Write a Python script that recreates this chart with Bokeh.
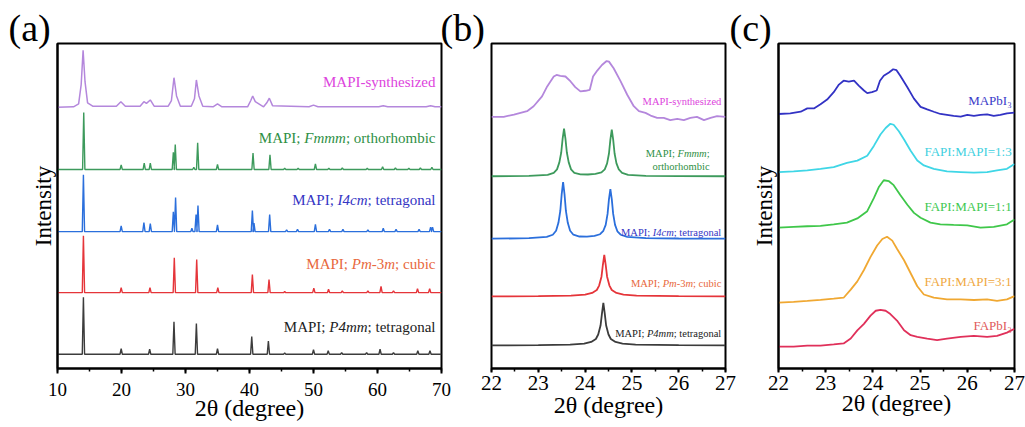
import math
from bokeh.plotting import figure
from bokeh.models import Range1d, SingleIntervalTicker, FixedTicker, Label, Title
from bokeh.layouts import row
from bokeh.embed import file_html
from bokeh.resources import INLINE

FONT = "Liberation Serif"

# ---------------- Panel (a): 10-70 deg, full patterns ----------------
a_synth_x = [10.0, 12.5, 13.3, 13.7, 14.0, 14.3, 14.7, 15.5, 19.2, 19.9, 20.6, 22.9, 23.5, 23.9, 24.5, 25.1,
             27.3, 27.8, 28.2, 28.6, 29.2, 30.9, 31.4, 31.7, 32.1, 32.7, 34.3, 35.0, 35.7, 39.7, 40.2, 40.5,
             40.9, 42.2, 42.7, 43.1, 43.6, 49.3, 50.0, 50.7, 60.2, 60.9, 61.6, 67.6, 68.3, 69.0, 70.0]
a_synth_y = [0.0, 0.01, 0.06, 0.4, 1.0, 0.45, 0.08, 0.02, 0.02, 0.1, 0.02, 0.02, 0.1, 0.07, 0.13, 0.02,
             0.02, 0.12, 0.52, 0.2, 0.02, 0.02, 0.15, 0.48, 0.2, 0.02, 0.01, 0.06, 0.01, 0.01, 0.12, 0.2,
             0.1, 0.01, 0.08, 0.16, 0.03, 0.01, 0.04, 0.01, 0.01, 0.03, 0.01, 0.01, 0.03, 0.01, 0.01]

a_fmmm_pos = [14.1, 19.95, 23.55, 24.5, 28.1, 28.4, 31.3, 31.9, 35.0, 40.55, 43.2, 45.5, 47.6, 50.3, 52.4,
              54.5, 58.4, 60.8, 62.8, 64.9, 66.7, 68.5]
a_fmmm_int = [1.0, 0.08, 0.11, 0.11, 0.3, 0.44, 0.04, 0.47, 0.09, 0.29, 0.26, 0.02, 0.02, 0.1, 0.02,
              0.03, 0.02, 0.05, 0.03, 0.02, 0.03, 0.04]

a_i4cm_pos = [14.05, 19.95, 23.5, 24.5, 28.1, 28.45, 31.0, 31.65, 31.95, 35.0, 40.45, 40.7, 43.15, 45.8,
              47.5, 50.3, 52.5, 54.6, 58.5, 60.9, 62.9, 66.5, 68.3, 68.6]
a_i4cm_int = [1.0, 0.1, 0.16, 0.14, 0.35, 0.6, 0.06, 0.3, 0.46, 0.12, 0.37, 0.15, 0.3, 0.03,
              0.04, 0.13, 0.04, 0.04, 0.03, 0.06, 0.04, 0.04, 0.08, 0.08]

a_pm3m_pos = [14.05, 19.95, 24.45, 28.25, 31.75, 35.05, 40.45, 43.05, 45.5, 50.05, 52.35, 54.5, 58.5,
              60.55, 62.5, 66.25, 68.15]
a_pm3m_int = [1.0, 0.09, 0.09, 0.61, 0.58, 0.09, 0.32, 0.23, 0.02, 0.08, 0.06, 0.03, 0.03,
              0.11, 0.03, 0.07, 0.07]

a_p4mm_pos = [14.05, 19.95, 24.4, 28.2, 31.7, 35.0, 40.35, 42.95, 45.5, 50.0, 52.3, 54.4, 58.3, 60.4,
              62.5, 66.3, 68.2]
a_p4mm_int = [1.0, 0.1, 0.09, 0.57, 0.54, 0.1, 0.31, 0.23, 0.02, 0.08, 0.06, 0.03, 0.03, 0.09,
              0.03, 0.06, 0.06]

# ---------------- Panel (b): 22-27 deg zoom ----------------
b_synth_x = [22.0, 22.26, 22.48, 22.62, 22.76, 22.90, 23.08, 23.19, 23.33, 23.39, 23.47, 23.58, 23.69,
             23.79, 23.90, 24.01, 24.10, 24.17, 24.26, 24.36, 24.46, 24.51, 24.61, 24.76, 24.90, 25.04,
             25.15, 25.29, 25.40, 25.54, 25.68, 25.82, 25.97, 26.11, 26.25, 26.39, 26.54, 26.68, 26.82, 27.0]
b_synth_y = [0, 0, 2.3, 4, 5.7, 10.7, 20.7, 30.7, 40.7, 42.3, 41.3, 40.7, 35.7,
             30, 25.7, 26.3, 27.3, 40.7, 46.7, 52.3, 56.3, 55.7, 49, 35.7, 22.3, 10.7,
             5.7, 4, 1.3, -1, -1, -3.3, -2, -3.3, -1, 0, -3.3, -1, 0.7, 0]

b_fmmm_x = [22.0, 22.8, 23.2, 23.33, 23.40, 23.45, 23.49, 23.52, 23.55, 23.58, 23.61, 23.65, 23.70, 23.77,
            23.9, 24.06, 24.22, 24.35, 24.42, 24.47, 24.51, 24.54, 24.57, 24.60, 24.63, 24.67, 24.72,
            24.79, 24.92, 25.3, 26.0, 27.0]
b_fmmm_y = [0, 0.4, 1.5, 3.5, 7, 14, 24, 38, 48, 38, 24, 14, 7, 3.5,
            2, 1.8, 2.5, 4, 7, 13, 23, 37, 47, 37, 23, 13, 7,
            3.5, 1.5, 0.5, 0.2, 0]

b_i4cm_x = [22.0, 22.8, 23.18, 23.31, 23.38, 23.43, 23.47, 23.50, 23.53, 23.56, 23.59, 23.63, 23.68, 23.75,
            23.88, 24.04, 24.20, 24.32, 24.39, 24.44, 24.48, 24.51, 24.54, 24.57, 24.60, 24.64, 24.69,
            24.76, 24.9, 25.3, 26.0, 27.0]
b_i4cm_y = [0, 0.5, 1.8, 4, 8, 16, 28, 45, 57, 45, 28, 16, 8, 4,
            2.2, 2, 2.8, 4.5, 8, 14, 25, 40, 50, 40, 25, 14, 7.5,
            4, 1.8, 0.6, 0.2, 0]

b_pm3m_x = [22.0, 23.0, 23.7, 24.0, 24.15, 24.25, 24.30, 24.35, 24.38, 24.41, 24.44, 24.47, 24.52, 24.57,
            24.67, 24.82, 25.1, 26.0, 27.0]
b_pm3m_y = [0, 0.3, 0.8, 1.8, 3.5, 6.5, 11, 20, 32, 42, 32, 20, 11, 6.5, 3.5, 1.8, 0.8, 0.3, 0]

b_p4mm_x = [22.0, 23.0, 23.68, 23.98, 24.13, 24.23, 24.28, 24.33, 24.36, 24.39, 24.42, 24.45, 24.50, 24.55,
            24.65, 24.80, 25.08, 26.0, 27.0]
b_p4mm_y = [0, 0.3, 0.8, 1.8, 3.5, 6.5, 11, 20, 32, 43, 32, 20, 11, 6.5, 3.5, 1.8, 0.8, 0.3, 0]

# ---------------- Panel (c): FAPI/MAPI mixtures ----------------
c_mapbi3_x = [22.0, 22.25, 22.47, 22.61, 22.75, 22.89, 23.03, 23.17, 23.28, 23.38, 23.49, 23.60, 23.70,
              23.81, 23.88, 23.98, 24.08, 24.15, 24.23, 24.34, 24.43, 24.50, 24.58, 24.73, 24.87, 25.01,
              25.15, 25.29, 25.43, 25.57, 25.71, 25.86, 26.0, 26.14, 26.28, 26.42, 26.56, 26.70, 26.84, 27.0]
c_mapbi3_y = [0, 0.7, 2.3, 5.7, 5.7, 10, 14.7, 22.3, 30, 34, 33, 34, 29,
              24, 21.3, 22.3, 24, 34, 39, 42.3, 45.7, 44.7, 39, 27.3, 15.7, 7.3,
              4.7, 2.3, 0, -1, -2, -2.7, -1, -2, -1, -0.3, -2, -1, 0.7, 1.3]

c_13_x = [22.0, 22.32, 22.61, 22.89, 23.17, 23.45, 23.67, 23.88, 24.02, 24.16, 24.27, 24.37, 24.44, 24.55,
          24.66, 24.80, 24.94, 25.08, 25.29, 25.57, 25.86, 26.14, 26.42, 26.63, 26.84, 27.0]
c_13_y = [0, 0.7, 1.7, 3.3, 5, 9.3, 11.7, 16.7, 26.7, 38.3, 45, 49.3, 48.3, 41.7,
          33.3, 21.7, 11.7, 6.7, 3.3, 0.7, 0, -0.7, 0, 1.7, 3.3, 8.3]

c_11_x = [22.0, 22.32, 22.61, 22.89, 23.17, 23.45, 23.67, 23.88, 24.02, 24.13, 24.23, 24.34, 24.44, 24.58,
          24.73, 24.87, 25.01, 25.22, 25.43, 25.71, 26.0, 26.28, 26.56, 26.84, 27.0]
c_11_y = [0, 0.7, 1.3, 1.7, 3.3, 5, 9.3, 16.7, 30, 41.7, 48.3, 47.3, 43.3, 33.3,
          23.3, 15, 10, 5, 3.3, 2.7, 2.3, 0, 0.7, 3.3, 8.3]

c_31_x = [22.0, 22.32, 22.61, 22.89, 23.17, 23.38, 23.53, 23.67, 23.81, 23.95, 24.09, 24.20, 24.30, 24.41,
          24.51, 24.66, 24.80, 24.94, 25.08, 25.29, 25.57, 25.86, 26.14, 26.42, 26.63, 26.84, 27.0]
c_31_y = [0, 0.7, 1.7, 2.7, 4, 5, 13.3, 21.7, 33.3, 46.7, 58.3, 65, 67.3, 63.3,
          55, 43.3, 30, 16.7, 8.3, 5, 3.3, 3.3, 2.7, 3.3, 1.7, 3.3, 6.7]

c_fapbi3_x = [22.0, 22.32, 22.61, 22.89, 23.17, 23.38, 23.53, 23.67, 23.81, 23.95, 24.06, 24.16, 24.27, 24.37,
              24.51, 24.66, 24.80, 24.94, 25.15, 25.36, 25.57, 25.86, 26.14, 26.42, 26.63, 26.84, 27.0]
c_fapbi3_y = [0, 0, 1, 1, 2.3, 3.3, 8.3, 16.7, 23.3, 31.7, 36.7, 37.7, 36.7, 33.3,
              26.7, 16.7, 11.7, 10, 8.3, 6.7, 8.3, 10, 11, 10, 11, 14.3, 18.3]

# ---------------- Text metrics (Times / Liberation Serif, per 1000 em) ----------------
REG = {' ': 250, ';': 278, ':': 278, '-': 333, '=': 564, 'A': 722, 'F': 556, 'I': 333, 'M': 889, 'P': 556,
       'a': 444, 'b': 500, 'c': 444, 'd': 500, 'e': 444, 'g': 500, 'h': 500, 'i': 278, 'l': 278, 'm': 778,
       'n': 500, 'o': 500, 'r': 333, 's': 389, 't': 278, 'y': 500, 'z': 444}
ITA = {'F': 611, 'm': 722, 'I': 333, 'c': 444, 'P': 611, '-': 333}


def text_width(s, italic, size):
    table = ITA if italic else REG
    return sum(table.get(ch, REG.get(ch, 500)) for ch in s) * size / 1000.0


def rich_label(p, segments, x, y, color, size):
    offset = 0.0
    for txt, it in reversed(segments):
        trail = len(txt) - len(txt.rstrip(' '))
        shown = txt.strip(' ')
        p.add_layout(Label(x=x, y=y, x_offset=-(offset + trail * REG[' '] * size / 1000.0), text=shown,
                           text_align="right", text_baseline="middle", text_font=FONT,
                           text_font_size=f"{size}px", text_font_style="italic" if it else "normal",
                           text_color=color))
        offset += text_width(txt, it, size)


def stick_pattern(pos, inten, lo, hi, half=0.18):
    xs, ys = [lo], [0.0]
    for c, h in sorted(zip(pos, inten)):
        xs += [c - half, c, c + half]
        ys += [0.0, h, 0.0]
    xs.append(hi)
    ys.append(0.0)
    return xs, ys


def make_fig(width, height, xr, yr, bl, br, bt, bb, interval, tick_size, standoff, tick_out,
             panel, panel_offset, ylabel, ylabel_shift, xlabel_standoff):
    p = figure(width=width, height=height, x_range=Range1d(*xr), y_range=Range1d(*yr),
               output_backend="svg", toolbar_location=None,
               y_axis_location="left" if ylabel else None, title=panel,
               min_border_left=bl, min_border_right=br, min_border_top=bt, min_border_bottom=bb)
    p.xgrid.visible = False
    p.ygrid.visible = False
    p.outline_line_color = "black"
    p.outline_line_width = 2
    p.outline_line_alpha = 1.0
    p.border_fill_alpha = 0.0

    t = p.title
    t.align = "left"
    t.offset = panel_offset
    t.standoff = -11
    t.text_font = FONT
    t.text_font_size = "38px"
    t.text_font_style = "normal"
    t.text_color = "black"

    ax = p.xaxis[0]
    ax.ticker = SingleIntervalTicker(interval=interval, num_minor_ticks=2)
    ax.axis_line_width = 2
    ax.axis_line_color = "black"
    ax.major_tick_line_width = 2
    ax.major_tick_out = tick_out
    ax.major_tick_in = 0
    ax.minor_tick_line_width = 1.5
    ax.minor_tick_out = 3
    ax.minor_tick_in = 0
    ax.major_label_text_font = FONT
    ax.major_label_text_font_size = f"{tick_size}px"
    ax.major_label_text_color = "black"
    ax.major_label_standoff = standoff
    ax.axis_label = "2θ (degree)"
    ax.axis_label_text_font = FONT
    ax.axis_label_text_font_size = "24px"
    ax.axis_label_text_font_style = "normal"
    ax.axis_label_text_color = "black"
    ax.axis_label_standoff = xlabel_standoff

    if ylabel:
        ay = p.yaxis[0]
        ay.ticker = FixedTicker(ticks=[])
        ay.major_tick_out = 0
        ay.major_tick_in = 0
        ay.minor_tick_out = 0
        ay.minor_tick_in = 0
        ay.major_label_standoff = 0
        ay.axis_line_width = 2
        ay.axis_line_color = "black"
        p.add_layout(Title(text=ylabel, align="center", offset=ylabel_shift, standoff=3,
                           text_font=FONT, text_font_size="23px", text_font_style="normal",
                           text_color="black"), "left")
    return p


# ---------------- Figure (a) ----------------
fa = make_fig(466, 427, (10, 70), (0, 5.70), 57, 25, 43, 59, 10, 19, 9, 5, "(a)", -49, "Intensity", 13, -4)
a_offsets = [4.58, 3.49, 2.40, 1.33, 0.25]
a_colors = ["#b487dc", "#3d9a5c", "#2b6fdc", "#e5353a", "#3c3c3c"]
fa.line(a_synth_x, [v + a_offsets[0] for v in a_synth_y], line_color=a_colors[0], line_width=1.5)
for (pos, inten), off, col in zip([(a_fmmm_pos, a_fmmm_int), (a_i4cm_pos, a_i4cm_int),
                                    (a_pm3m_pos, a_pm3m_int), (a_p4mm_pos, a_p4mm_int)],
                                   a_offsets[1:], a_colors[1:]):
    xs, ys = stick_pattern(pos, inten, 10, 70)
    fa.line(xs, [v + off for v in ys], line_color=col, line_width=1.4)

rich_label(fa, [("MAPI-synthesized", False)], 69.06, 5.02, "#dd44dd", 15)
rich_label(fa, [("MAPI; ", False), ("Fmmm", True), ("; orthorhombic", False)], 69.06, 4.05, "#2f8f45", 15)
rich_label(fa, [("MAPI; ", False), ("I4cm", True), ("; tetragonal", False)], 69.06, 2.95, "#3535c4", 15)
rich_label(fa, [("MAPI; ", False), ("Pm", True), ("-3", False), ("m", True), ("; cubic", False)],
           69.06, 1.84, "#e8683c", 15)
rich_label(fa, [("MAPI; ", False), ("P4mm", True), ("; tetragonal", False)], 69.06, 0.72, "#222222", 15)

# ---------------- Figure (b) ----------------
fb = make_fig(316, 427, (22, 27), (0, 328), 55, 27, 43, 56, 1, 21, 3, 4, "(b)", -51, None, 0, -1)
fb.margin = (0, 0, 0, -30)
b_offsets = [254, 194, 131, 72.7, 23.3]
b_colors = ["#b487dc", "#3d9a5c", "#2b6fdc", "#e5353a", "#3c3c3c"]
for (xs, ys), off, col in zip([(b_synth_x, b_synth_y), (b_fmmm_x, b_fmmm_y), (b_i4cm_x, b_i4cm_y),
                                (b_pm3m_x, b_pm3m_y), (b_p4mm_x, b_p4mm_y)], b_offsets, b_colors):
    fb.line(xs, [v + off for v in ys], line_color=col, line_width=1.8)

rich_label(fb, [("MAPI-synthesized", False)], 26.91, 269.3, "#dd44dd", 10.5)
rich_label(fb, [("MAPI; ", False), ("Fmmm", True), (";", False)], 26.66, 217, "#2f8f45", 10.5)
rich_label(fb, [("orthorhombic", False)], 26.66, 204, "#2f8f45", 10.5)
rich_label(fb, [("MAPI; ", False), ("I4cm", True), ("; tetragonal", False)], 26.91, 137, "#3535c4", 10.5)
rich_label(fb, [("MAPI; ", False), ("Pm", True), ("-3", False), ("m", True), ("; cubic", False)],
           26.91, 86, "#e8683c", 10.5)
rich_label(fb, [("MAPI; ", False), ("P4mm", True), ("; tetragonal", False)], 26.91, 35, "#222222", 10.5)

# ---------------- Figure (c) ----------------
fc = make_fig(303, 427, (22, 27), (0, 332), 56, 11, 42, 53, 1, 21, 3, 4, "(c)", -49, "Intensity", 10, -3)
fc.margin = (0, 0, 0, -30)
c_offsets = [260, 200.7, 144, 67.3, 22.3]
c_colors = ["#3232c4", "#3fd6e6", "#3fc74a", "#f0a832", "#e0305a"]
for (xs, ys), off, col in zip([(c_mapbi3_x, c_mapbi3_y), (c_13_x, c_13_y), (c_11_x, c_11_y),
                                (c_31_x, c_31_y), (c_fapbi3_x, c_fapbi3_y)], c_offsets, c_colors):
    fc.line(xs, [v + off for v in ys], line_color=col, line_width=1.8)

c_names = ["MAPbI₃", "FAPI:MAPI=1:3", "FAPI:MAPI=1:1", "FAPI:MAPI=3:1", "FAPbI₃"]
c_label_y = [274, 222, 166, 89, 44]
c_label_colors = ["#3a3ac8", "#40d0e0", "#40c850", "#f0a840", "#e05a5a"]
for name, yy, col in zip(c_names, c_label_y, c_label_colors):
    rich_label(fc, [(name, False)], 26.94, yy, col, 13)

layout = row(fa, fb, fc, spacing=0)
open("out.html", "w").write(file_html(layout, INLINE))
